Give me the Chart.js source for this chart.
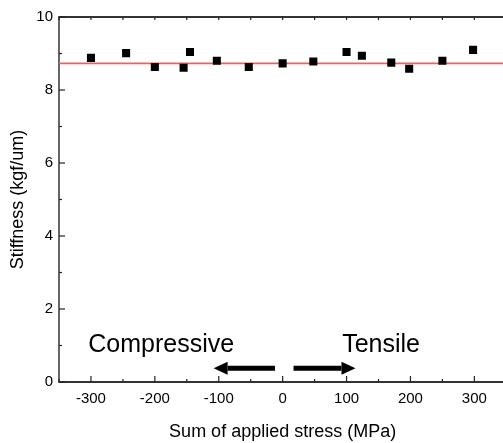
<!DOCTYPE html>
<html>
<head>
<meta charset="utf-8">
<script src="https://cdn.jsdelivr.net/npm/chart.js@4.4.0/dist/chart.umd.min.js"></script>
<style>
  html, body { margin: 0; padding: 0; background: #fff; overflow: hidden; }
  #wrap { width: 512px; height: 443px; position: relative; }
</style>
</head>
<body>
<div id="wrap"><canvas id="chart"></canvas></div>
<script>
// measured points: applied stress (MPa) vs stiffness (kgf/um)
const stress = [-300, -245, -200, -155, -145, -103, -53, 0, 48, 100, 124, 170, 198, 250, 298];
const stiffness = [8.88, 9.01, 8.63, 8.61, 9.04, 8.80, 8.63, 8.73, 8.78, 9.04, 8.94, 8.75, 8.58, 8.80, 9.10];
// red reference line
const refX = [-350, 350];
const refY = [8.73, 8.73];
// axes
const xRange = [-350, 350];
const yRange = [0, 10];

const FONT = "'Liberation Sans', Arial, sans-serif";

// arrows + Compressive / Tensile labels, placed in data units
const notes = [
  { text: "Compressive", x: -190, y: 1.02 },
  { text: "Tensile", x: 154, y: 1.02 },
];
const arrows = [
  { from: -12, to: -108, y: 0.38 },
  { from: 17, to: 114, y: 0.38 },
];

const frame = {
  id: "frame",
  afterDraw(chart) {
    const ctx = chart.ctx;
    const xs = chart.scales.x, ys = chart.scales.y;
    const a = chart.chartArea;
    ctx.save();
    // top border
    ctx.strokeStyle = "#333";
    ctx.lineWidth = 2;
    ctx.beginPath();
    ctx.moveTo(a.left, a.top);
    ctx.lineTo(a.right, a.top);
    ctx.stroke();
    // inward ticks
    ctx.lineWidth = 1.2;
    ctx.strokeStyle = "#222";
    xs.ticks.forEach(t => {
      const px = xs.getPixelForValue(t.value);
      const len = t.label !== "" ? 6 : 3;
      ctx.beginPath();
      ctx.moveTo(px, a.bottom);
      ctx.lineTo(px, a.bottom - len);
      ctx.moveTo(px, a.top);
      ctx.lineTo(px, a.top + 3);
      ctx.stroke();
    });
    ys.ticks.forEach(t => {
      const py = ys.getPixelForValue(t.value);
      const len = t.label !== "" ? 6 : 3;
      ctx.beginPath();
      ctx.moveTo(a.left, py);
      ctx.lineTo(a.left + len, py);
      ctx.stroke();
    });
    // text notes
    ctx.fillStyle = "#000";
    ctx.font = "25px " + FONT;
    ctx.textAlign = "center";
    ctx.textBaseline = "middle";
    notes.forEach(n => {
      ctx.fillText(n.text, xs.getPixelForValue(n.x), ys.getPixelForValue(n.y));
    });
    // arrows
    arrows.forEach(ar => {
      const x0 = xs.getPixelForValue(ar.from);
      const x1 = xs.getPixelForValue(ar.to);
      const y = ys.getPixelForValue(ar.y);
      const dir = x1 > x0 ? 1 : -1;
      const head = 14;
      ctx.lineWidth = 5;
      ctx.strokeStyle = "#000";
      ctx.beginPath();
      ctx.moveTo(x0, y);
      ctx.lineTo(x1 - dir * head, y);
      ctx.stroke();
      ctx.beginPath();
      ctx.moveTo(x1, y);
      ctx.lineTo(x1 - dir * head, y - 6.5);
      ctx.lineTo(x1 - dir * head, y + 6.5);
      ctx.closePath();
      ctx.fill();
    });
    ctx.restore();
  }
};

new Chart(document.getElementById("chart"), {
  type: "scatter",
  data: {
    datasets: [
      {
        data: stress.map((x, i) => ({ x: x, y: stiffness[i] })),
        pointStyle: "rect",
        pointRadius: 5.7,
        backgroundColor: "#000",
        borderWidth: 0,
      },
      {
        type: "line",
        data: refX.map((x, i) => ({ x: x, y: refY[i] })),
        borderColor: "#ff5a5a",
        borderWidth: 1.6,
        pointRadius: 0,
      },
    ],
  },
  options: {
    responsive: true,
    maintainAspectRatio: false,
    animation: false,
    events: [],
    layout: { padding: { top: 17, right: 2, bottom: 0, left: 0 } },
    plugins: { legend: { display: false }, tooltip: { enabled: false } },
    scales: {
      x: {
        type: "linear",
        min: xRange[0],
        max: xRange[1],
        afterFit: s => { s.height = 61; s.paddingRight = 0; s.paddingLeft = 0; },
        grid: { display: true, drawOnChartArea: false, drawTicks: false },
        border: { color: "#333", width: 2 },
        ticks: {
          stepSize: 50,
          autoSkip: false,
          maxRotation: 0,
          padding: 8,
          color: "#000",
          font: { family: FONT, size: 15 },
          callback: v => (v % 100 === 0 ? String(v) : ""),
        },
        title: {
          display: true,
          text: "Sum of applied stress (MPa)",
          color: "#000",
          font: { family: FONT, size: 18 },
          padding: { top: 0, bottom: 0 },
        },
      },
      y: {
        min: yRange[0],
        max: yRange[1],
        afterFit: s => { s.width = 59; },
        grid: { display: true, drawOnChartArea: false, drawTicks: false },
        border: { color: "#666", width: 2 },
        ticks: {
          stepSize: 1,
          padding: 6,
          color: "#000",
          font: { family: FONT, size: 15 },
          callback: v => (v % 2 === 0 ? String(v) : ""),
        },
        title: {
          display: true,
          text: "Stiffness (kgf/um)",
          color: "#000",
          font: { family: FONT, size: 18 },
          padding: { top: 7, bottom: 0 },
        },
      },
    },
  },
  plugins: [frame],
});
</script>
</body>
</html>
